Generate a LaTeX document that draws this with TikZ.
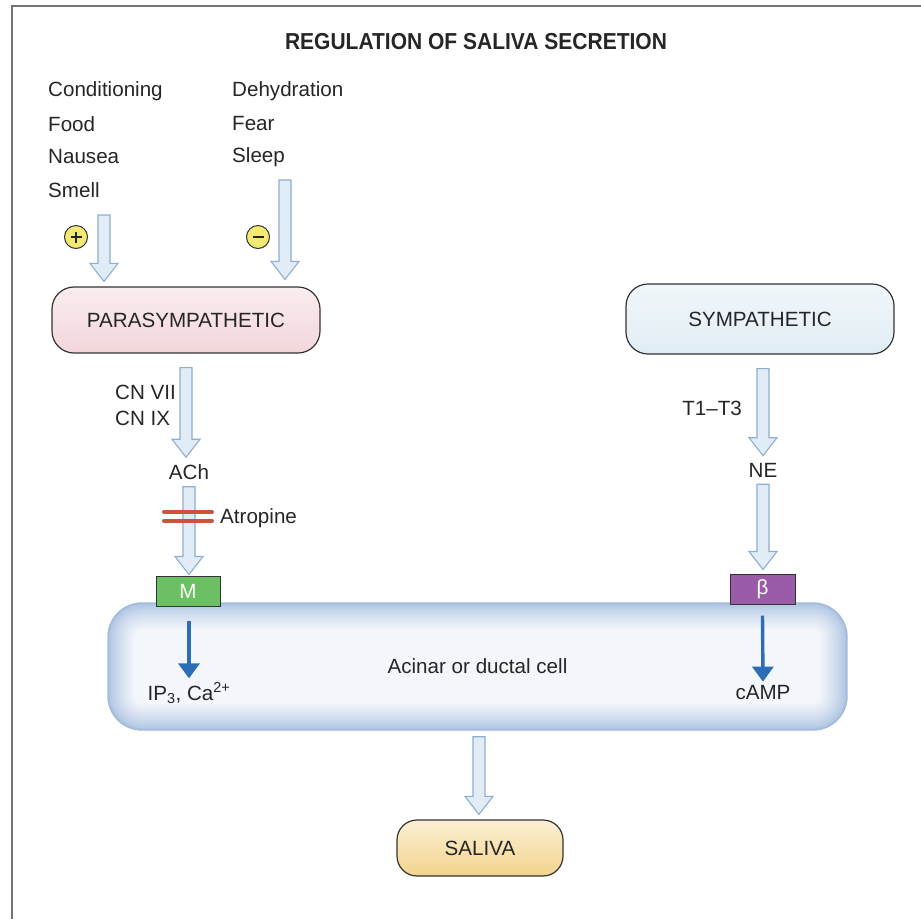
\documentclass[tikz,border=0pt]{standalone}
\usepackage{fontspec}
\setmainfont{Liberation Sans}
\usetikzlibrary{calc,arrows.meta}
\definecolor{arrfill}{HTML}{E2ECF7}
\definecolor{arrline}{HTML}{8DAED2}
\definecolor{plusyel}{HTML}{F3EA74}
\definecolor{atrored}{HTML}{C9553B}
\definecolor{mgreen}{HTML}{6CBF62}
\definecolor{bpurple}{HTML}{9A5CA6}
\definecolor{sigblue}{HTML}{2C6DB5}
\definecolor{cellline}{HTML}{A3BAD8}
\definecolor{cellin}{HTML}{F3F6FB}
\definecolor{cellout}{HTML}{ADC3E2}
\definecolor{paratop}{HTML}{FAEDEF}
\definecolor{parabot}{HTML}{F3D6DB}
\definecolor{symptop}{HTML}{F1F7FA}
\definecolor{sympbot}{HTML}{E0EDF4}
\definecolor{saltop}{HTML}{FCF1D4}
\definecolor{salbot}{HTML}{F2D38C}
\tikzset{
  lbl/.style={font=\fontsize{20.6}{24}\selectfont, text=black!85, inner sep=0pt},
  blockarrow/.style={draw=arrline, fill=arrfill, line width=1.1pt, line join=miter},
  nervebox/.style={draw=black!80, line width=1.2pt, rounded corners=22pt, font=\fontsize{20.6}{24}\selectfont, text=black!85},
  sign/.style={circle, draw=black!80, fill=plusyel, line width=1pt, minimum size=23pt, inner sep=0pt},
  signbar/.style={draw=black!85, line width=2.4pt},
  receptor/.style={draw=black!80, line width=1pt, minimum width=64pt, minimum height=30pt, inner sep=0pt, text=white, font=\fontsize{20.6}{24}\selectfont},
  sig/.style={draw=sigblue, line width=3.4pt, -{Triangle[length=15pt,width=21pt]}},
  bar/.style={draw=atrored, line width=4pt, line cap=round}
}
\def\blockarrow(#1)(#2){\draw[blockarrow] let \p1=(#1), \p2=(#2) in (\x1-6pt,\y1) -- (\x1+6pt,\y1) -- (\x1+6pt,\y2+18pt) -- (\x1+14pt,\y2+18pt) -- (\x1,\y2) -- (\x1-14pt,\y2+18pt) -- (\x1-6pt,\y2+18pt) -- cycle;}

\begin{document}
\begin{tikzpicture}[x=1pt, y=-1pt]
		%%%%% START %%%%%
		\useasboundingbox (0,0) rectangle (921,919);
		\fill[white] (0,0) rectangle (921,919);
		\draw[black!55, line width=1.6pt] (921,6) -- (12,6) -- (12,919);
		
		\node[lbl, font=\bfseries\fontsize{21}{24}\selectfont, yscale=1.1] (title) at (476,42) {REGULATION OF SALIVA SECRETION};
		
		% stimuli
		\node[lbl, anchor=west] (cond) at (48,91) {Conditioning};
		\node[lbl, anchor=west] (food) at (48,124) {Food};
		\node[lbl, anchor=west] (naus) at (48,157) {Nausea};
		\node[lbl, anchor=west] (smell) at (48,190) {Smell};
		\node[lbl, anchor=west] (dehyd) at (232,91) {Dehydration};
		\node[lbl, anchor=west] (fear) at (232,124) {Fear};
		\node[lbl, anchor=west] (sleep) at (232,157) {Sleep};
		\node[sign] (plus) at (76,237) {};
		\draw[signbar] ([xshift=-5.5pt]plus.center) -- ([xshift=5.5pt]plus.center);
		\draw[signbar] ([yshift=-5.5pt]plus.center) -- ([yshift=5.5pt]plus.center);
		\node[sign] (minus) at (258,237) {};
		\draw[signbar] ([xshift=-5.5pt]minus.center) -- ([xshift=5.5pt]minus.center);
		\coordinate (plusin) at (104,215);
		\coordinate (minusin) at (285,180);
		
		% nerves
		\node[nervebox, minimum width=268pt, minimum height=66pt, top color=paratop, bottom color=parabot] (para) at (186,320) {PARASYMPATHETIC};
		\node[nervebox, minimum width=268pt, minimum height=70pt, top color=symptop, bottom color=sympbot] (symp) at (760,319) {SYMPATHETIC};
		\blockarrow(plusin)([yshift=5pt]para.north)
		\blockarrow(minusin)([yshift=7pt]para.north)
		
		\node[lbl, anchor=west] (cn7) at (115,392) {CN VII};
		\node[lbl, anchor=west] (cn9) at (115,418) {CN IX};
		\node[lbl] (ach) at (189,472) {ACh};
		\node[lbl, anchor=east] (tt) at (742,408) {T1–T3};
		\node[lbl] (ne) at (763,470) {NE};
		\node[lbl, anchor=west] (atro) at (220,518) {Atropine};
		
		% cell, edge darker than middle
		\foreach \d [evaluate=\d as \p using 100*(\d/26)^0.8, evaluate=\d as \r using 34-\d] in {0,2,...,26}
			\fill[cellin!\p!cellout, rounded corners=\r pt] (108+\d,603+\d) rectangle (847-\d,730-\d);
		\node[draw=cellline, line width=1.4pt, rounded corners=34pt, minimum width=739pt, minimum height=127pt, lbl] (cell) at (477.5,666.5) {Acinar or ductal cell};
		\node[receptor, fill=mgreen] (m) at (188,591) {M};
		\node[receptor, fill=bpurple, minimum width=65pt] (beta) at (762.5,589) {β};
		
		\blockarrow([yshift=-14pt]para.south)([yshift=7pt]ach.north)
		\blockarrow([yshift=-7pt]ach.south)([yshift=1pt]m.north)
		\draw[bar] (164,512) -- (212,512);
		\draw[bar] (164,521) -- (212,521);
		\blockarrow([xshift=3pt,yshift=-14pt]symp.south)([yshift=7pt]ne.north)
		\blockarrow([yshift=-7pt]ne.south)([yshift=4pt]beta.north)
		
		\node[lbl] (ip) at (189,693) {IP\textsubscript{3}, Ca\textsuperscript{2+}};
		\node[lbl] (camp) at (763,693) {cAMP};
		\draw[sig] ([xshift=1pt,yshift=-14pt]m.south) -- ([yshift=4pt]ip.north);
		\draw[sig] ([yshift=-11pt]beta.south) -- ([yshift=4pt]camp.north);
		
		% output
		\node[nervebox, rounded corners=20pt, minimum width=166pt, minimum height=56pt, top color=saltop, bottom color=salbot] (saliva) at (480,848) {SALIVA};
		\blockarrow([xshift=1.5pt,yshift=-6pt]cell.south)([yshift=5pt]saliva.north)
		%%%%% END %%%%%
\end{tikzpicture}
\end{document}
